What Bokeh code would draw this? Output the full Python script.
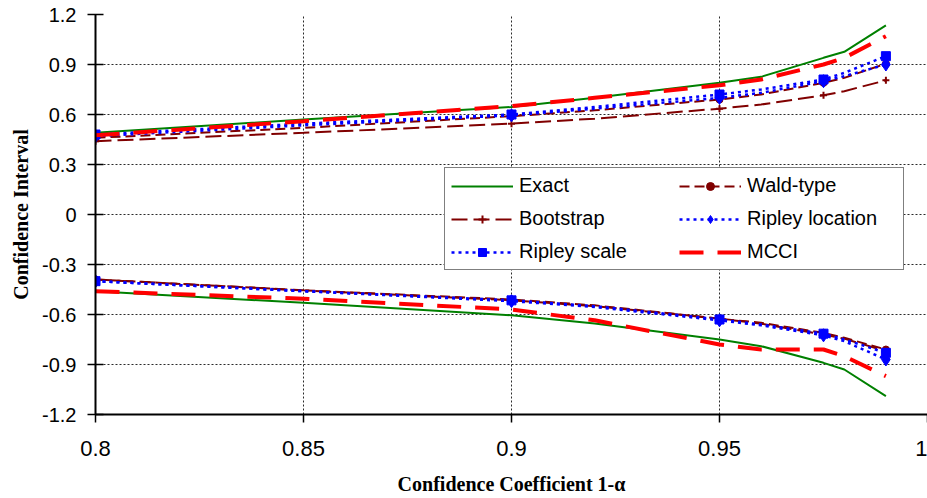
from bokeh.plotting import figure
from bokeh.models import FixedTicker, Range1d, Legend, LegendItem
from bokeh.embed import file_html
from bokeh.resources import INLINE

# ---- data ----
x_vals = [0.80, 0.85, 0.90, 0.92, 0.95, 0.96, 0.975, 0.98, 0.99]
marker_x = [0.80, 0.90, 0.95, 0.975, 0.99]

exact_upper = [0.49, 0.57, 0.645, 0.70, 0.79, 0.826, 0.94, 0.976, 1.135]
exact_lower = [-0.46, -0.53, -0.605, -0.654, -0.75, -0.79, -0.89, -0.93, -1.09]

wald_upper = [0.46, 0.52, 0.59, 0.625, 0.69, 0.72, 0.79, 0.82, 0.905]
wald_lower = [-0.39, -0.455, -0.51, -0.545, -0.625, -0.65, -0.71, -0.74, -0.81]

boot_upper = [0.44, 0.49, 0.545, 0.575, 0.635, 0.66, 0.715, 0.74, 0.805]
boot_lower = [-0.39, -0.455, -0.515, -0.55, -0.625, -0.655, -0.72, -0.745, -0.82]

rloc_upper = [0.47, 0.535, 0.595, 0.635, 0.70, 0.73, 0.80, 0.83, 0.90]
rloc_lower = [-0.40, -0.46, -0.52, -0.555, -0.635, -0.665, -0.725, -0.76, -0.87]

rscale_upper = [0.48, 0.545, 0.60, 0.645, 0.72, 0.75, 0.81, 0.85, 0.95]
rscale_lower = [-0.40, -0.46, -0.515, -0.55, -0.63, -0.66, -0.715, -0.75, -0.83]

mcci_upper = [0.475, 0.56, 0.65, 0.70, 0.775, 0.81, 0.90, 0.94, 1.07]
mcci_lower = [-0.46, -0.505, -0.57, -0.635, -0.78, -0.81, -0.81, -0.85, -0.97]

x_ticks = [0.8, 0.85, 0.9, 0.95, 1.0]
x_tick_labels = ["0.8", "0.85", "0.9", "0.95", "1"]
y_ticks = [-1.2, -0.9, -0.6, -0.3, 0, 0.3, 0.6, 0.9, 1.2]
y_tick_labels = ["-1.2", "-0.9", "-0.6", "-0.3", "0", "0.3", "0.6", "0.9", "1.2"]

x_title = "Confidence Coefficient 1-\u03b1"
y_title = "Confidence Interval"

# ---- figure ----
p = figure(width=927, height=498, output_backend="svg", toolbar_location=None,
           x_range=Range1d(0.8, 1.0), y_range=Range1d(-1.2, 1.2),
           min_border_left=95, min_border_right=0, min_border_top=14, min_border_bottom=84)
p.outline_line_color = None
p.background_fill_color = "white"
p.border_fill_color = "white"

p.xaxis.ticker = FixedTicker(ticks=x_ticks)
p.yaxis.ticker = FixedTicker(ticks=y_ticks)
p.xaxis.major_label_overrides = dict(zip(x_ticks, x_tick_labels))
p.yaxis.major_label_overrides = dict(zip(y_ticks, y_tick_labels))

for ax in (p.xaxis, p.yaxis):
    ax.axis_line_width = 2
    ax.axis_line_color = "black"
    ax.major_tick_line_color = "black"
    ax.major_tick_line_width = 1.5
    ax.major_tick_out = 8
    ax.minor_tick_line_color = None
    ax.major_label_text_font = "Liberation Sans"
    ax.major_label_text_color = "black"
    ax.axis_label_text_font = "Liberation Serif"
    ax.axis_label_text_font_style = "bold"
    ax.axis_label_text_font_size = "20px"
    ax.axis_label_text_color = "black"

p.xaxis.major_tick_in = 0
p.yaxis.major_tick_in = 8
p.xaxis.major_label_text_font_size = "22px"
p.yaxis.major_label_text_font_size = "20px"
p.xaxis.major_label_standoff = 18
p.yaxis.major_label_standoff = 11
p.xaxis.axis_label = x_title
p.yaxis.axis_label = y_title
p.xaxis.axis_label_standoff = 14
p.yaxis.axis_label_standoff = 7

p.xgrid.ticker = FixedTicker(ticks=x_ticks[1:])
p.ygrid.ticker = FixedTicker(ticks=y_ticks[1:-1])
for g in (p.xgrid, p.ygrid):
    g.grid_line_color = "#2a2a2a"
    g.grid_line_dash = "2 2"
    g.grid_line_width = 1

# ---- series ----
series = [
    ("Exact", exact_upper, exact_lower, dict(line_color="#008000", line_width=2, line_dash="solid"), None),
    ("Wald-type", wald_upper, wald_lower, dict(line_color="#800000", line_width=2, line_dash="10 5"),
     dict(marker="circle", size=7, fill_color="#800000", line_color="#800000")),
    ("Bootstrap", boot_upper, boot_lower, dict(line_color="#800000", line_width=2, line_dash="16 6"),
     dict(marker="cross", size=7, line_width=2, line_color="#800000")),
    ("Ripley location", rloc_upper, rloc_lower, dict(line_color="#0000FF", line_width=2.5, line_dash="3 4"),
     dict(marker="diamond", size=13, fill_color="#0000FF", line_color="#0000FF")),
    ("Ripley scale", rscale_upper, rscale_lower, dict(line_color="#0000FF", line_width=2.5, line_dash="3 4"),
     dict(marker="square", size=9, fill_color="#0000FF", line_color="#0000FF")),
    ("MCCI", mcci_upper, mcci_lower, dict(line_color="#FF0000", line_width=4, line_dash="24 14"), None),
]

idx = [i for i, xv in enumerate(x_vals) if xv in marker_x]
mx = [x_vals[i] for i in idx]

items = {}
for name, up, lo, lstyle, mstyle in series:
    r1 = p.line(x_vals, up, **lstyle)
    r2 = p.line(x_vals, lo, **lstyle)
    rs = [r1]
    if mstyle is not None:
        s1 = p.scatter(mx, [up[i] for i in idx], **mstyle)
        s2 = p.scatter(mx, [lo[i] for i in idx], **mstyle)
        rs.append(s1)
    items[name] = LegendItem(label=name, renderers=rs)

order = ["Exact", "Bootstrap", "Ripley scale", "Wald-type", "Ripley location", "MCCI"]
legend = Legend(items=[items[n] for n in order], location=(349, 144), ncols=2,
                orientation="vertical",
                label_text_font="Liberation Sans", label_text_font_size="20px",
                label_text_color="black",
                glyph_width=62, glyph_height=20, label_width=150, label_height=20,
                label_standoff=6, spacing=10, padding=6, margin=0,
                border_line_color="black", border_line_width=1.5,
                background_fill_color="white", background_fill_alpha=1.0)
p.add_layout(legend, "center")

open("out.html", "w").write(file_html(p, INLINE))
